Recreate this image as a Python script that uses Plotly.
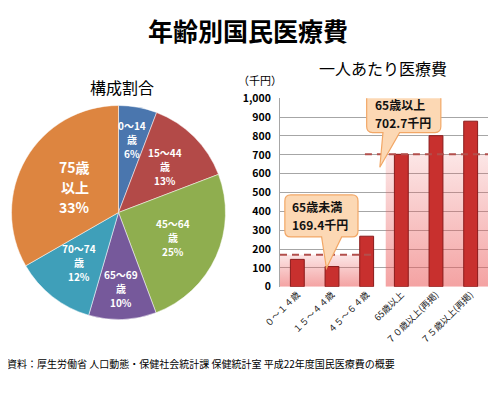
import math
import plotly.graph_objects as go

# ---- data ----
pie_labels = [["0～14", "歳"], ["15～44", "歳"], ["45～64", "歳"], ["65～69", "歳"], ["70～74", "歳"], ["75歳", "以上"]]
pie_names = ["0～14歳", "15～44歳", "45～64歳", "65～69歳", "70～74歳", "75歳以上"]
pie_values = [5.8, 13.4, 25.1, 10.2, 12.2, 33.3]
pie_colors = ["#4A76AE", "#B34A48", "#8FAE4F", "#76599B", "#3F9FB9", "#DD8540"]

bar_categories = ["０～１４歳", "１５～４４歳", "４５～６４歳", "65歳以上", "７０歳以上(再掲)", "７５歳以上(再掲)"]
bar_values = [145, 107, 268, 702.7, 801.6, 878.5]
under65_avg = 169.4
over65_avg = 702.7
y_ticks = [0, 100, 200, 300, 400, 500, 600, 700, 800, 900, 1000]

FONT = "Noto Sans CJK JP"
W, H = 500, 393
OFF = 8  # page body offset


def px(x):
    return (x - OFF) / W


def py(y):
    return 1 - (y - OFF) / H


fig = go.Figure()

# ---- pie ----
pie_cx, pie_cy, pie_r = 118.5, 212.5, 107
fig.add_trace(go.Pie(
    labels=pie_names, values=pie_values, sort=False, direction="clockwise", rotation=0,
    marker=dict(colors=pie_colors, line=dict(color="#FFFFFF", width=0.5)),
    textinfo="none",
    domain=dict(x=[px(pie_cx - pie_r), px(pie_cx + pie_r)],
                y=[py(pie_cy + pie_r), py(pie_cy - pie_r)]),
    showlegend=False, hoverinfo="skip",
))

# pie labels placed at slice mid-angles, one annotation per line
label_radius = [0.69, 0.61, 0.56, 0.71, 0.60, 0.47]
label_size = [10, 10, 10, 10, 10, 14]
line_gap = [14, 14, 14, 14, 14, 20]
total = sum(pie_values)
cum = 0.0
for lines, v, rf, fs, gap in zip(pie_labels, pie_values, label_radius, label_size, line_gap):
    mid = (cum + v / 2) / total * 2 * math.pi
    cum += v
    lx = pie_cx + rf * pie_r * math.sin(mid)
    ly = pie_cy - rf * pie_r * math.cos(mid)
    texts = lines + [f"{v:.0f}%"]
    for i, t in enumerate(texts):
        fig.add_annotation(x=px(lx), y=py(ly + (i - 1) * gap), xref="paper", yref="paper",
                           xanchor="center", yanchor="middle", showarrow=False,
                           text=f"<b>{t}</b>",
                           font=dict(family=FONT, size=fs, color="white"))

# ---- bar chart ----
x_idx = list(range(len(bar_categories)))

# shaded regions (group averages), on base axes (below bars)
left_x = [-0.5, 2.2]
right_x = [2.55, 5.5]
for xs, avg in [(left_x, under65_avg), (right_x, over65_avg)]:
    fig.add_trace(go.Scatter(
        x=xs, y=[avg, avg], mode="lines", line=dict(width=0),
        fill="tozeroy",
        fillgradient=dict(type="vertical",
                          colorscale=[[0, "rgba(235,90,90,0.56)"], [1, "rgba(235,90,90,0.15)"]]),
        xaxis="x", yaxis="y", showlegend=False, hoverinfo="skip",
    ))

fig.add_trace(go.Bar(
    x=x_idx, y=bar_values, width=0.4,
    marker=dict(color="#C8302E", line=dict(color="#8A1B1B", width=1)),
    xaxis="x2", yaxis="y2", showlegend=False, hoverinfo="skip",
))

# dashed average lines
for xs, avg in [([-0.5, 2.15], under65_avg), ([1.95, 5.5], over65_avg)]:
    fig.add_trace(go.Scatter(
        x=xs, y=[avg, avg], mode="lines",
        line=dict(color="#B24F4C", width=2, dash="7px,5px"),
        xaxis="x2", yaxis="y2", showlegend=False, hoverinfo="skip",
    ))

# callouts (rounded box + tail)
def callout(x0, x1, y0, y1, tail_a, tail_b, tip, rx=0.17, ry=32):
    path = (f"M{x0+rx},{y1} L{x1-rx},{y1} Q{x1},{y1} {x1},{y1-ry} "
            f"L{x1},{y0+ry} Q{x1},{y0} {x1-rx},{y0} "
            f"L{tail_b},{y0} L{tip[0]},{tip[1]} L{tail_a},{y0} "
            f"L{x0+rx},{y0} Q{x0},{y0} {x0},{y0+ry} "
            f"L{x0},{y1-ry} Q{x0},{y1} {x0+rx},{y1} Z")
    fig.add_shape(type="path", path=path, xref="x", yref="y",
                  fillcolor="#FCD8B4", line=dict(color="#F2A766", width=1.2), layer="above")

callout(-0.36, 1.75, 264, 487, 0.7, 1.28, (0.84, 98))
callout(2.0, 4.14, 818, 1035, 2.47, 2.95, (2.38, 634))

def ctext(x, y, t):
    fig.add_annotation(x=x, y=y, xref="x", yref="y", showarrow=False,
                       xanchor="left", yanchor="middle", text=f"<b>{t}</b>",
                       font=dict(family=FONT, size=12, color="#111"))

ctext(-0.2, 428, "65歳未満")
ctext(-0.2, 332, f"{under65_avg}千円")
ctext(2.17, 968, "65歳以上")
ctext(2.17, 872, f"{over65_avg}千円")

# ---- texts ----
def ptext(x, y, text, size, anchor="center", color="black"):
    fig.add_annotation(x=px(x), y=py(y), xref="paper", yref="paper", showarrow=False,
                       xanchor=anchor, yanchor="middle", text=text,
                       font=dict(family=FONT, size=size, color=color))

ptext(248, 30, "<b>年齢別国民医療費</b>", 25)
ptext(122, 87, "構成割合", 16)
ptext(383, 68, "一人あたり医療費", 16)
ptext(260, 80, "（千円）", 11)
ptext(5, 363, "資料：厚生労働省 人口動態・保健社会統計課 保健統計室 平成22年度国民医療費の概要", 10, anchor="left")

x_dom = [px(280), px(488)]
y_dom = [py(286.7), py(98.3)]
fig.update_layout(
    width=W, height=H, margin=dict(l=0, r=0, t=0, b=0, autoexpand=False),
    paper_bgcolor="white", plot_bgcolor="white",
    xaxis=dict(domain=x_dom, range=[-0.5, 5.5], automargin=False,
               tickmode="array", tickvals=x_idx, ticktext=bar_categories,
               tickangle=-45, tickfont=dict(family=FONT, size=9, color="#222"),
               showgrid=False, zeroline=False, showline=False, ticks=""),
    yaxis=dict(domain=y_dom, range=[0, 1000], automargin=False,
               tickmode="array", tickvals=y_ticks, tickformat=",",
               tickfont=dict(family=FONT, size=10.5, color="black", weight="bold"),
               ticklabelstandoff=6,
               showgrid=True, gridcolor="#A6A6A6", gridwidth=1,
               zeroline=False, showline=True, linecolor="#A6A6A6", ticks=""),
    xaxis2=dict(overlaying="x", range=[-0.5, 5.5], visible=False, automargin=False),
    yaxis2=dict(overlaying="y", range=[0, 1000], visible=False, automargin=False),
    bargap=0.6,
)

fig.write_html("out.html")
